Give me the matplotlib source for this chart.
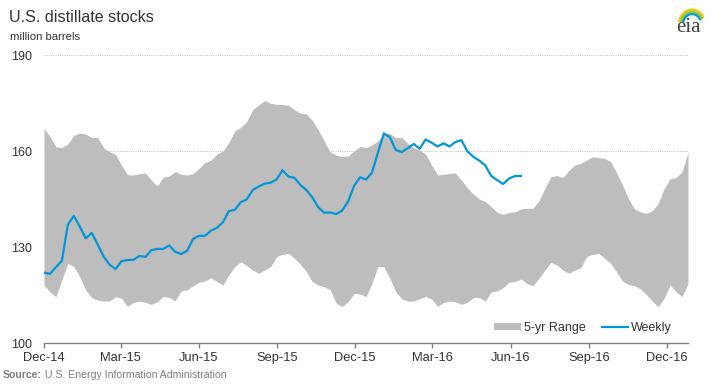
import datetime as dt
import numpy as np
import matplotlib
matplotlib.use("Agg")
import matplotlib.pyplot as plt
from matplotlib.patches import Patch
from matplotlib.lines import Line2D

# ---------------- data (million barrels, weekly from Dec-2014) ----------------
start_date = "2014-12-01"

weekly = [122.0, 121.6, 123.7, 125.7, 137.0, 139.7, 136.4, 132.7, 134.4, 130.8,
          127.0, 124.5, 123.1, 125.6, 125.9, 126.0, 127.2, 126.9, 129.0, 129.4,
          129.4, 130.5, 128.5, 127.8, 128.8, 132.5, 133.5, 133.5, 135.1, 136.0,
          137.7, 141.2, 141.6, 144.0, 144.9, 147.8, 148.9, 149.8, 150.1, 151.1,
          154.0, 152.0, 151.6, 149.4, 147.8, 145.5, 142.4, 140.7, 140.8, 140.3,
          141.4, 144.2, 149.1, 151.8, 151.1, 153.2, 159.5, 165.5, 164.3, 160.3,
          159.7, 160.9, 162.2, 160.7, 163.6, 162.6, 161.4, 162.4, 161.4, 162.8,
          163.4, 159.9, 158.2, 157.0, 155.5, 152.2, 150.9, 149.7, 151.4, 152.2,
          152.2]

range_high = [167.1, 164.5, 161.3, 161.1, 162.2, 164.9, 165.6, 165.3, 164.2, 164.2,
              161.0, 159.8, 158.9, 155.6, 152.6, 152.5, 152.9, 153.1, 150.9, 149.1,
              151.8, 152.2, 153.6, 152.7, 152.5, 152.9, 154.6, 156.4, 157.1, 159.0,
              160.0, 162.6, 166.3, 167.4, 169.2, 172.9, 174.4, 175.8, 174.9, 174.6,
              174.5, 174.3, 172.9, 171.8, 171.6, 169.5, 166.6, 163.0, 159.7, 158.7,
              158.3, 158.4, 160.0, 161.4, 161.0, 161.9, 163.1, 165.5, 165.5, 164.2,
              164.2, 162.4, 161.0, 160.3, 159.0, 155.6, 152.5, 152.7, 153.0, 153.1,
              150.9, 148.5, 146.5, 145.0, 144.2, 142.6, 140.8, 140.2, 140.8, 141.0,
              141.9, 142.1, 142.1, 144.4, 148.3, 152.0, 152.3, 151.7, 153.8, 155.6,
              156.1, 157.2, 158.2, 157.9, 157.7, 156.7, 153.3, 149.4, 145.2, 141.9,
              141.0, 140.5, 141.3, 143.6, 148.3, 151.3, 151.7, 153.5, 159.5]

range_low = [118.1, 116.0, 114.5, 119.7, 124.9, 123.9, 120.7, 116.6, 114.2, 113.4,
             113.1, 113.1, 114.5, 114.0, 111.4, 112.7, 113.1, 112.7, 112.1, 112.9,
             114.5, 114.2, 113.2, 116.3, 116.6, 117.9, 119.0, 119.4, 120.4, 119.2,
             118.1, 121.3, 123.9, 125.4, 124.2, 122.8, 121.8, 122.8, 123.9, 127.0,
             127.7, 128.0, 126.5, 124.6, 122.3, 119.2, 118.1, 117.6, 116.6, 112.4,
             111.4, 112.9, 115.5, 115.3, 114.5, 118.6, 123.9, 123.9, 120.2, 116.0,
             113.8, 113.1, 113.1, 113.8, 114.5, 113.8, 111.4, 112.7, 113.1, 112.9,
             112.1, 112.7, 114.2, 114.2, 113.1, 116.0, 116.3, 117.3, 119.0, 119.2,
             120.0, 118.6, 117.9, 120.2, 122.8, 125.2, 124.4, 122.8, 121.8, 122.8,
             123.5, 127.0, 127.7, 128.0, 126.5, 124.9, 122.3, 119.4, 118.3, 117.9,
             116.9, 115.2, 113.1, 111.4, 114.0, 118.1, 116.0, 114.5, 118.6]

tick_dates = ["2014-12-01", "2015-03-01", "2015-06-01", "2015-09-01", "2015-12-01",
              "2016-03-01", "2016-06-01", "2016-09-01", "2016-12-01"]
tick_labels = ["Dec-14", "Mar-15", "Jun-15", "Sep-15", "Dec-15",
               "Mar-16", "Jun-16", "Sep-16", "Dec-16"]
y_ticks = [100, 130, 160, 190]

# ---------------- figure ----------------
plt.rcParams["font.family"] = ["Liberation Sans", "DejaVu Sans"]
W, H = 719, 384
fig = plt.figure(figsize=(W / 100, H / 100), dpi=100)
ax = fig.add_axes([44 / W, 1 - 343 / H, (688 - 44) / W, (343 - 55) / H])

t0 = np.datetime64(start_date)
def week_pos(d):
    return (np.datetime64(d) - t0).astype(int) / 7.0

x_band = np.arange(len(range_high))
x_week = np.arange(len(weekly))

band_color = "#bdbdbd"
line_color = "#0096d7"

for y in y_ticks[1:]:
    ax.axhline(y, color="#c8c8c8", lw=0.8, ls=(0, (1, 1)), zorder=1)

ax.fill_between(x_band, range_low, range_high, color=band_color, lw=0, zorder=2)
ax.plot(x_week, weekly, color=line_color, lw=1.6, zorder=3, solid_joinstyle="round")

ax.set_xlim(0, len(range_high) - 1)
ax.set_ylim(100, 190)

for s in ["left", "right", "top"]:
    ax.spines[s].set_visible(False)
ax.spines["bottom"].set_color("#808080")
ax.spines["bottom"].set_linewidth(1.0)

ax.set_yticks(y_ticks)
ax.set_yticklabels([str(v) for v in y_ticks])
ax.tick_params(axis="y", length=0, pad=8.5, labelsize=9, labelcolor="#333333")

ax.set_xticks([week_pos(d) for d in tick_dates])
ax.set_xticklabels(tick_labels)
ax.tick_params(axis="x", direction="out", length=3.6, width=1.0, color="#808080",
               pad=3, labelsize=9.3, labelcolor="#333333")

handles = [Patch(facecolor=band_color, edgecolor="none", label="5-yr Range"),
           Line2D([0], [0], color=line_color, lw=1.6, label="Weekly")]
ax.legend(handles=handles, loc="center", bbox_to_anchor=(0.837, 0.052), ncol=2,
          frameon=False, fontsize=9, handlelength=2.1, handleheight=0.5,
          handletextpad=0.25, columnspacing=1.3, labelcolor="#333333",
          borderpad=0, borderaxespad=0)

# titles
fig.text(9 / W, 1 - 22.5 / H, "U.S. distillate stocks", fontsize=11.6, color="#333333",
         va="baseline", ha="left")
fig.text(10 / W, 1 - 40.5 / H, "million barrels", fontsize=8.2, color="#333333",
         va="baseline", ha="left")

# source
src = fig.text(3 / W, 1 - 377.5 / H, "Source:", fontsize=7.6, color="#7f7f7f",
               fontweight="bold", va="baseline", ha="left")
fig.canvas.draw()
bb = src.get_window_extent()
fig.text((bb.x1 + 3) / W, 1 - 377.5 / H, "U.S. Energy Information Administration",
         fontsize=7.6, color="#7f7f7f", va="baseline", ha="left")

# eia logo
fig.text(688 / W, 1 - 32 / H, "eia", fontsize=15, color="#404040",
         family=["Liberation Serif", "DejaVu Serif"], ha="center", va="baseline")
lax = fig.add_axes([672 / W, 1 - 22 / H, 32 / W, 18 / H])
lax.set_xlim(0, 32)
lax.set_ylim(0, 18)
lax.axis("off")
th = np.linspace(0.15 * np.pi, 0.95 * np.pi, 40)
for r, c, lw in [(13, "#f2c500", 1.6), (11, "#8cc63f", 1.6), (9, "#0096d7", 1.6)]:
    lax.plot(20 + r * np.cos(th), -2 + r * np.sin(th) * 1.1, color=c, lw=lw,
             solid_capstyle="round")

fig.savefig("out.png", dpi=100)
